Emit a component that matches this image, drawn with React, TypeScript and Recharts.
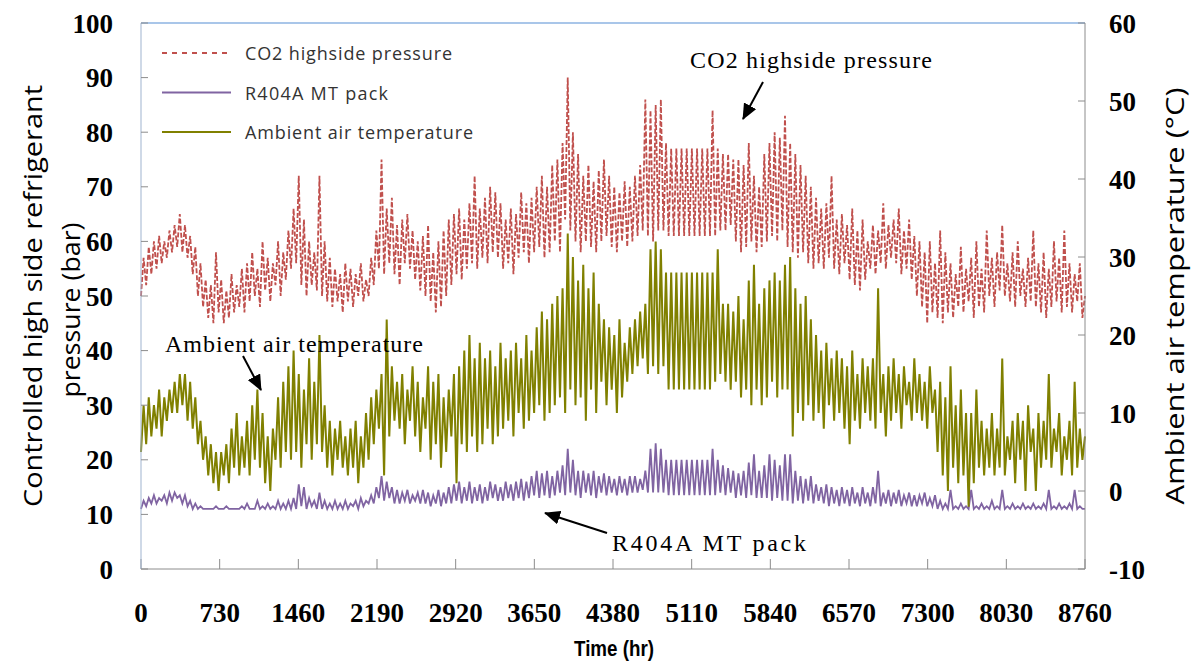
import { LineChart, Line, XAxis, YAxis, ReferenceLine } from 'recharts';

// one reading per day (hour of year)
const hours: number[] = Array.from({ length: 366 }, (_, i) => i * 24);

const xTicks = [0, 730, 1460, 2190, 2920, 3650, 4380, 5110, 5840, 6570, 7300, 8030, 8760];
const pressureTicks = [0, 10, 20, 30, 40, 50, 60, 70, 80, 90, 100];
const tempTicks = [-10, 0, 10, 20, 30, 40, 50, 60];

// bar
const co2Pressure = [
  50, 57, 52, 59, 54, 60, 55, 61, 56, 60,
  57, 62, 58, 63, 59, 65, 58, 63, 57, 61,
  54, 59, 50, 56, 48, 53, 46, 52, 45, 58,
  47, 53, 45, 51, 46, 54, 47, 52, 48, 55,
  47, 56, 49, 58, 50, 55, 48, 60, 51, 57,
  49, 56, 52, 60, 50, 58, 53, 62, 55, 66,
  56, 72, 52, 64, 50, 60, 52, 58, 51, 72,
  50, 60, 49, 57, 48, 55, 49, 54, 47, 56,
  49, 55, 48, 54, 50, 56, 49, 53, 50, 57,
  52, 62, 55, 75, 54, 66, 56, 68, 54, 63,
  52, 64, 56, 65, 55, 62, 53, 60, 51, 61,
  50, 63, 49, 58, 47, 60, 48, 62, 50, 64,
  52, 65, 54, 66, 53, 64, 55, 67, 56, 72,
  55, 66, 57, 68, 56, 70, 58, 69, 57, 67,
  55, 64, 56, 66, 54, 65, 57, 69, 58, 67,
  56, 68, 58, 70, 59, 72, 57, 70, 58, 74,
  60, 75, 58, 78, 64, 90, 62, 80, 60, 76,
  58, 72, 60, 74, 59, 71, 58, 73, 60, 75,
  61, 72, 59, 70, 58, 69, 60, 71, 59, 70,
  60, 72, 61, 74, 62, 86, 61, 84, 60, 85,
  62, 86, 62, 78, 61, 77, 61, 77, 61, 77,
  61, 77, 61, 77, 61, 77, 61, 77, 61, 77,
  61, 84, 61, 77, 62, 76, 62, 76, 63, 75,
  60, 75, 58, 74, 59, 78, 60, 72, 58, 70,
  59, 76, 60, 78, 61, 80, 60, 79, 62, 83,
  59, 78, 58, 76, 57, 74, 58, 72, 56, 70,
  55, 68, 56, 66, 55, 67, 57, 72, 55, 64,
  54, 65, 56, 63, 53, 66, 52, 62, 51, 64,
  53, 60, 55, 63, 54, 62, 56, 67, 55, 63,
  57, 64, 56, 66, 54, 62, 55, 64, 53, 61,
  50, 60, 48, 58, 45, 60, 47, 56, 46, 62,
  45, 58, 47, 56, 46, 54, 48, 59, 47, 55,
  49, 57, 46, 60, 48, 55, 47, 62, 50, 57,
  48, 58, 51, 63, 50, 56, 49, 58, 48, 60,
  50, 55, 48, 57, 49, 62, 48, 56, 47, 58,
  46, 55, 48, 60, 49, 57, 47, 62, 48, 56,
  47, 54, 49, 56, 46, 50,
];

// bar
const r404aPressure = [
  11, 12.5, 11.5, 13, 12, 13.5, 12, 13, 12.5, 13.5,
  12, 14, 12.5, 14, 13, 13.5, 12, 13.5, 11.5, 12.5,
  11, 12, 11, 11.5, 11, 11, 11, 11, 11, 11.5,
  11, 11, 11, 11.5, 11, 11, 11, 11, 11, 11.5,
  11, 12, 11, 11, 11, 12.5, 11, 11.5, 11, 12,
  11, 11.5, 11, 12.5, 11, 12, 11, 12.5, 11, 13,
  11, 15.5, 11.5, 15, 11, 13, 11.5, 12.5, 11, 14,
  11, 12.5, 11, 12, 11, 12.5, 11, 12, 11, 12.5,
  11, 12, 11.5, 12.5, 11, 13, 11.5, 12.5, 12, 13.5,
  12, 15, 13, 17, 12.5, 16, 13, 15, 12, 14.5,
  12, 14, 12.5, 14.5, 12, 13.5, 12.5, 14, 12, 14.5,
  12, 14, 11.5, 13.5, 12, 14.5, 11.5, 14, 12, 15,
  12, 15.5, 12.5, 16, 12, 15, 12.5, 16, 12, 15,
  12.5, 15.5, 12, 15, 12.5, 16, 13, 15.5, 12.5, 15,
  12.5, 16, 13, 15.5, 12.5, 16, 13, 16.5, 12.5, 16,
  13, 17, 13.5, 18, 13, 17.5, 13.5, 18, 13, 17,
  13.5, 18, 14, 19, 13.5, 22, 14, 20, 13.5, 18,
  13, 18, 14, 17.5, 13.5, 18, 13, 17, 14, 17.5,
  13.5, 17, 14, 16.5, 13.5, 17, 14, 16.5, 13.5, 17,
  14, 17, 14, 16.5, 14.5, 18, 14, 22, 14, 23,
  14, 22, 14, 20, 13.5, 20, 13.5, 20, 13.5, 20,
  13.5, 20, 13.5, 20, 13.5, 20, 13.5, 20, 13.5, 20,
  13.5, 22, 13.5, 20, 14, 19, 13.5, 18.5, 14, 18,
  13, 17.5, 13.5, 18, 13, 19.5, 13.5, 21, 13, 18,
  13, 19, 13, 21, 12.5, 20, 13, 19, 12.5, 21,
  12.5, 21, 12, 18, 12.5, 17, 12, 16.5, 12.5, 17,
  12, 15.5, 12.5, 15, 12, 15.5, 11.5, 15, 12, 14.5,
  11.5, 15, 12, 14.5, 11.5, 15, 12, 14, 11.5, 15,
  12, 14, 11.5, 15, 12, 18, 11.5, 14, 12, 14.5,
  11.5, 14, 12, 14.5, 11.5, 13.5, 12, 14, 11.5, 13.5,
  11.5, 13.5, 12, 14, 11.5, 13, 11.5, 13.5, 11, 12.5,
  11, 12, 11, 14.5, 11, 11.5, 11, 12, 11, 11.5,
  11, 14.5, 11, 11.5, 11, 12, 11, 11.5, 11, 12.5,
  11, 11.5, 11, 14.5, 11, 11.5, 11, 12, 11, 11.5,
  11, 12, 11, 11.5, 11, 12, 11, 11.5, 11, 12,
  11, 14.5, 11, 11.5, 11, 12, 11, 11.5, 11, 12,
  11, 14.5, 11, 11.5, 11, 11,
];

// °C, right axis
const ambientTemp = [
  5, 11, 6, 12, 7, 11, 8, 13, 7, 12,
  9, 13, 10, 14, 10, 15, 11, 15, 9, 14,
  8, 12, 6, 9, 4, 7, 2, 6, 1, 5,
  0, 5, 2, 6, 1, 8, 3, 10, 2, 7,
  3, 9, 2, 11, 4, 13, 3, 10, 1, 7,
  0, 8, 4, 12, 3, 14, 5, 16, 4, 18,
  5, 15, 3, 13, 6, 17, 4, 14, 6, 20,
  5, 11, 3, 9, 2, 8, 4, 9, 3, 7,
  2, 8, 3, 9, 1, 7, 3, 10, 4, 12,
  6, 13, 8, 15, 2, 22, 7, 16, 9, 14,
  8, 15, 6, 13, 9, 16, 7, 14, 5, 12,
  8, 16, 4, 14, 6, 15, 3, 12, 5, 13,
  7, 15, 1, 16, 6, 18, 5, 20, 7, 17,
  5, 19, 6, 17, 8, 18, 6, 16, 7, 19,
  8, 17, 9, 18, 7, 19, 10, 17, 8, 20,
  9, 18, 10, 21, 11, 23, 9, 22, 10, 24,
  11, 25, 12, 26, 10, 33, 13, 30, 11, 27,
  12, 29, 9, 26, 13, 28, 10, 24, 14, 22,
  11, 21, 13, 20, 10, 22, 12, 19, 14, 21,
  15, 22, 16, 23, 17, 24, 15, 31, 16, 32,
  15, 31, 16, 28, 13, 28, 13, 28, 13, 28,
  13, 28, 13, 28, 13, 28, 13, 28, 13, 28,
  13, 28, 14, 31, 15, 24, 14, 24, 13, 23,
  14, 25, 12, 22, 13, 27, 11, 29, 13, 24,
  11, 26, 12, 27, 14, 28, 12, 27, 13, 29,
  13, 30, 7, 26, 10, 24, 9, 25, 11, 22,
  9, 20, 10, 18, 8, 19, 11, 17, 9, 18,
  10, 17, 8, 16, 6, 18, 9, 15, 8, 17,
  10, 16, 9, 17, 8, 26, 10, 15, 7, 16,
  9, 17, 10, 15, 8, 16, 11, 14, 9, 17,
  10, 15, 9, 14, 8, 16, 10, 13, 5, 14,
  2, 12, 0, 16, 3, 11, 1, 13, 2, 10,
  -2, 10, 1, 13, 3, 9, 2, 8, 3, 10,
  2, 8, 3, 17, 2, 7, 4, 9, 1, 10,
  4, 9, 0, 11, 5, 8, 0, 10, 3, 9,
  4, 15, 3, 8, 5, 10, 2, 7, 4, 9,
  2, 14, 3, 8, 4, 7,
];

const seriesNames = ['CO2 highside pressure', 'R404A MT pack', 'Ambient air temperature'];
const seriesColors = ['#C0504D', '#8064A2', '#808000'];
const legendWidths = [207, 143, 228];

const data = hours.map((hour, i) => ({
  hour,
  co2: co2Pressure[i],
  r404a: r404aPressure[i],
  ambient: ambientTemp[i],
}));

const tickFont = {
  fontFamily: 'Liberation Serif',
  fontSize: 27,
  fontWeight: 'bold',
  fill: '#000',
};

const Arrow = ({ x1, y1, x2, y2 }: { x1: number; y1: number; x2: number; y2: number }) => (
  <line x1={x1} y1={y1} x2={x2} y2={y2} stroke="#000" strokeWidth={2} markerEnd="url(#head)" />
);

export default function App() {
  return (
    <div style={{ position: 'absolute', left: 0, top: 0, width: 1201, height: 669, background: '#fff' }}>
      <LineChart width={1201} height={669} data={data} margin={{ top: 23, right: 0, bottom: 0, left: 0 }}>
        <XAxis
          type="number"
          dataKey="hour"
          domain={[0, 8760]}
          ticks={xTicks}
          interval={0}
          height={100}
          tickSize={-10}
          tickMargin={44}
          stroke="#8C8C8C"
          tick={tickFont}
        />
        <YAxis
          yAxisId="p"
          orientation="left"
          width={141}
          domain={[0, 100]}
          ticks={pressureTicks}
          interval={0}
          tickSize={-7}
          tickMargin={35}
          stroke="#9FB3CF"
          tickLine={{ stroke: '#8C8C8C' }}
          tick={tickFont}
        />
        <YAxis
          yAxisId="t"
          orientation="right"
          width={116}
          domain={[-10, 60]}
          ticks={tempTicks}
          interval={0}
          tickSize={-7}
          tickMargin={31}
          stroke="#8C8C8C"
          tick={{ ...tickFont, textAnchor: 'start' }}
        />
        <ReferenceLine yAxisId="p" y={100} stroke="#8DB3E2" strokeWidth={1.5} />
        <Line
          yAxisId="p"
          dataKey="co2"
          name={seriesNames[0]}
          stroke={seriesColors[0]}
          strokeWidth={1.8}
          strokeDasharray="5 2"
          dot={false}
          isAnimationActive={false}
        />
        <Line
          yAxisId="p"
          dataKey="r404a"
          name={seriesNames[1]}
          stroke={seriesColors[1]}
          strokeWidth={1.8}
          dot={false}
          isAnimationActive={false}
        />
        <Line
          yAxisId="t"
          dataKey="ambient"
          name={seriesNames[2]}
          stroke={seriesColors[2]}
          strokeWidth={2}
          dot={false}
          isAnimationActive={false}
        />
      </LineChart>

      <svg
        width={1201}
        height={669}
        style={{ position: 'absolute', left: 0, top: 0, pointerEvents: 'none' }}
      >
        <defs>
          <marker id="head" markerUnits="userSpaceOnUse" markerWidth={16} markerHeight={14} refX={15} refY={7} orient="auto">
            <path d="M0,0 L16,7 L0,14 z" fill="#000" />
          </marker>
        </defs>

        {/* legend */}
        {seriesNames.map((name, i) => (
          <g key={name}>
            <line
              x1={162}
              x2={231}
              y1={53 + i * 39.5}
              y2={53 + i * 39.5}
              stroke={seriesColors[i]}
              strokeWidth={2}
              strokeDasharray={i === 0 ? '5 5' : undefined}
            />
            <text
              x={245}
              y={60 + i * 39.5}
              fontFamily="Open Sans"
              fontSize={18}
              fill="#333"
              textLength={legendWidths[i]}
              lengthAdjust="spacing"
            >
              {name}
            </text>
          </g>
        ))}

        {/* axis titles */}
        <text
          transform="translate(42,296) rotate(-90)"
          textAnchor="middle"
          fontFamily="Open Sans"
          fontSize={25}
          fill="#000"
          textLength={422}
          lengthAdjust="spacingAndGlyphs"
        >
          Controlled high side refrigerant
        </text>
        <text
          transform="translate(80,310) rotate(-90)"
          textAnchor="middle"
          fontFamily="Open Sans"
          fontSize={25}
          fill="#000"
          textLength={175}
          lengthAdjust="spacingAndGlyphs"
        >
          pressure (bar)
        </text>
        <text
          transform="translate(1184,296) rotate(-90)"
          textAnchor="middle"
          fontFamily="Open Sans"
          fontSize={25}
          fill="#000"
          textLength={417}
          lengthAdjust="spacingAndGlyphs"
        >
          Ambient air temperature (°C)
        </text>
        <text
          x={614}
          y={656}
          textAnchor="middle"
          fontFamily="Liberation Sans"
          fontSize={22}
          fontWeight="bold"
          fill="#000"
          textLength={80}
          lengthAdjust="spacingAndGlyphs"
        >
          Time (hr)
        </text>

        {/* annotations */}
        <text x={690} y={68} fontFamily="Liberation Serif" fontSize={24} fill="#000" textLength={242}>
          CO2 highside pressure
        </text>
        <Arrow x1={763} y1={82} x2={743} y2={119} />
        <text x={165} y={352} fontFamily="Liberation Serif" fontSize={24} fill="#000" textLength={258}>
          Ambient air temperature
        </text>
        <Arrow x1={243} y1={356} x2={261} y2={390} />
        <text x={612} y={551} fontFamily="Liberation Serif" fontSize={24} fill="#000" textLength={194}>
          R404A MT pack
        </text>
        <Arrow x1={607} y1={533} x2={545} y2={513} />
      </svg>
    </div>
  );
}
